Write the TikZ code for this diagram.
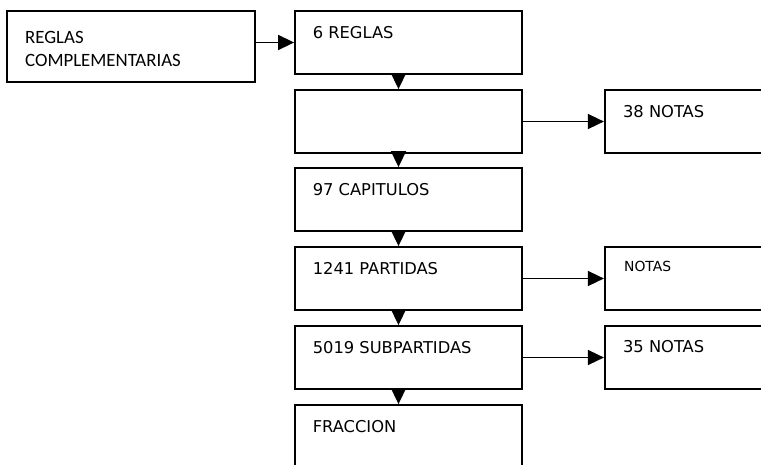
\documentclass[tikz,border=0pt]{standalone}
\usepackage{fontspec}
\setmainfont{DejaVu Sans}
\newfontfamily\carlito{Carlito}
\usetikzlibrary{arrows.meta,positioning}

\begin{document}
\begin{tikzpicture}[x=1pt,y=-1pt,
  box/.style={draw,line width=1.8pt,minimum width=227pt,minimum height=63pt,inner sep=0pt},
  txt/.style={anchor=base west,inner sep=0pt,font=\fontsize{16.3}{19}\selectfont},
  con/.style={line width=1.6pt,-{Triangle[length=16pt,width=15pt]}}]
  \useasboundingbox (0,0) rectangle (761,464);
  % left box
  \node[box,minimum width=248pt,minimum height=71pt] (compl) at (131,46.5) {};
  \node[txt,font=\carlito\fontsize{18.8}{22}\selectfont] (compl-a) at (25,43) {REGLAS};
  \node[txt,font=\carlito\fontsize{18.8}{22}\selectfont] (compl-b) at (25,66) {COMPLEMENTARIAS};
  % main column
  \foreach \n/\y/\t in {reg/42.5/6 REGLAS, sec/121.5/, cap/199.5/97 CAPITULOS,
      par/278.5/1241 PARTIDAS, sub/357.5/5019 SUBPARTIDAS, fra/436.5/FRACCION}
    {\node[box] (\n) at (408.5,\y) {};
     \node[txt] (\n-t) at ([xshift=18.5pt,yshift=-28pt]\n.north west) {\t};}
  \foreach \a/\b in {reg/sec, sec/cap, cap/par, par/sub, sub/fra}
    \draw[con] ([xshift=-10pt]\a.south) -- ([xshift=-10pt]\b.north);
  \draw[con] (compl.east |- reg.west) -- (reg.west);
  % notes
  \node[box,right=81pt of sec] (notas38) {};
  \node[box,right=81pt of par] (notas) {};
  \node[box,right=81pt of sub] (notas35) {};
  \node[txt] (notas38-t) at ([xshift=19pt,yshift=-28pt]notas38.north west) {38 NOTAS};
  \node[txt,font=\fontsize{13.9}{16}\selectfont] (notas-t)
    at ([xshift=20pt,yshift=-25pt]notas.north west) {NOTAS};
  \node[txt] (notas35-t) at ([xshift=19pt,yshift=-27pt]notas35.north west) {35 NOTAS};
  \draw[con] (sec) -- (notas38);
  \draw[con] (par) -- (notas);
  \draw[con] (sub) -- (notas35);
\end{tikzpicture}
\end{document}
